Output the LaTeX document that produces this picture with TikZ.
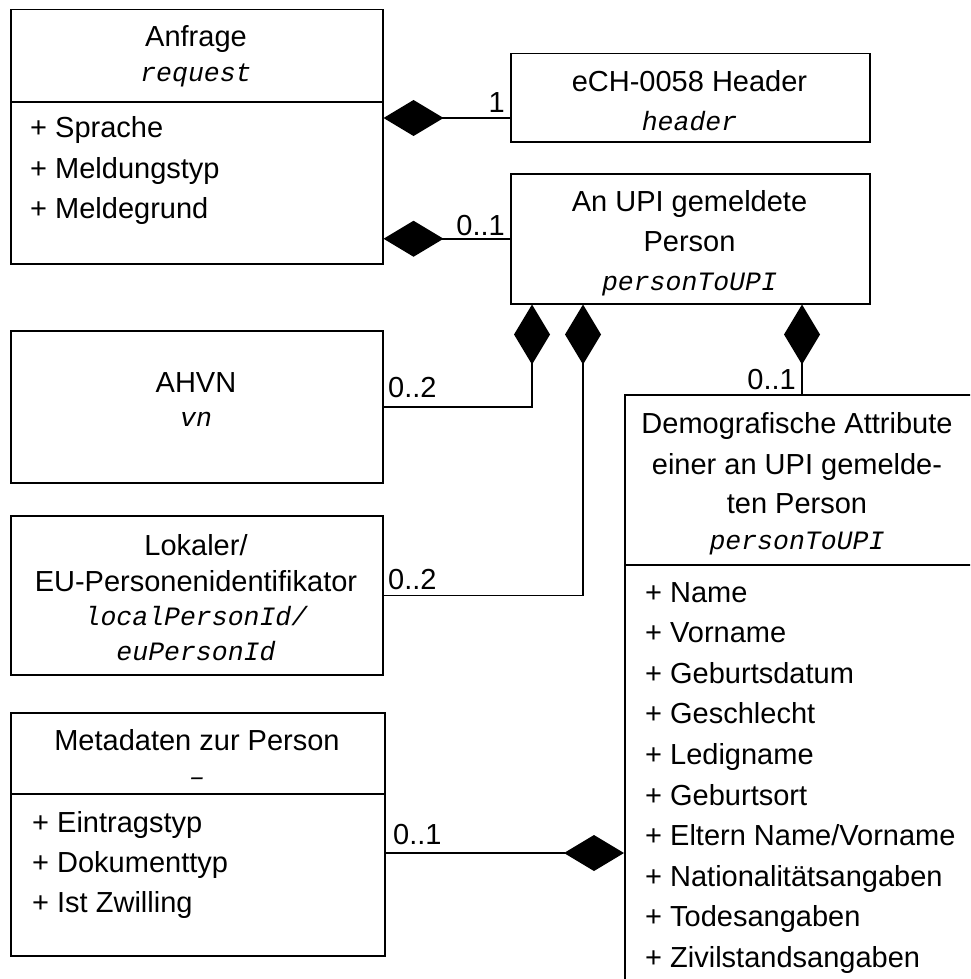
\documentclass[tikz,border=0pt]{standalone}
\usepackage{fontspec}
\setmainfont{Liberation Sans}
\newfontfamily\courfam{Liberation Mono}
\usetikzlibrary{arrows.meta}
\newcommand\txtfont{\fontsize{29pt}{29pt}\selectfont}
\newcommand\rolefont{\courfam\itshape\fontsize{26.5pt}{26.5pt}\selectfont}
\tikzset{
  umlbox/.style={draw=black, fill=white, line width=1.5pt, inner sep=0pt, anchor=north west},
  divider/.style={line width=1.5pt},
  ttl/.style={font=\txtfont, anchor=base, inner sep=0pt},
  role/.style={font=\rolefont, anchor=base, inner sep=0pt},
  attr/.style={font=\txtfont, anchor=base west, inner sep=0pt},
  multl/.style={font=\txtfont, anchor=base west, inner sep=0pt},
  multr/.style={font=\txtfont, anchor=base east, inner sep=0pt},
  comp/.style={line width=1.5pt, {Diamond[length=60pt,width=36pt]}-},
}
\begin{document}
\begin{tikzpicture}[x=1pt, y=-1pt]
\useasboundingbox (0,0) rectangle (970,979);
\clip (0,0) rectangle (970,979);
\fill[white] (0,0) rectangle (970,979);

% ---- class boxes ----
\node[umlbox, minimum width=372pt, minimum height=254pt] (anfrage) at (10,9) {};
\node[umlbox, minimum width=359pt, minimum height=88pt] (hdr) at (510,53) {};
\node[umlbox, minimum width=359pt, minimum height=130pt] (upi) at (510,173) {};
\node[umlbox, minimum width=372pt, minimum height=152pt] (ahvn) at (10,330) {};
\node[umlbox, minimum width=372pt, minimum height=159pt] (lok) at (10,515) {};
\node[umlbox, minimum width=374pt, minimum height=243pt] (meta) at (10,712) {};
\node[umlbox, minimum width=360pt, minimum height=620pt] (demo) at (624,394) {};

% compartment dividers
\draw[divider] (anfrage.west |- 0,102) -- (anfrage.east |- 0,102);
\draw[divider] (meta.west |- 0,794) -- (meta.east |- 0,794);
\draw[divider] (demo.west |- 0,565) -- (demo.east |- 0,565);

% ---- Anfrage ----
\node[ttl]  (anfrageT) at (196,47) {Anfrage};
\node[role] (anfrageR) at (196,82) {request};
\node[attr] (anfrageA1) at (30,138) {+ Sprache};
\node[attr] (anfrageA2) at (30,178) {+ Meldungstyp};
\node[attr] (anfrageA3) at (30,218) {+ Meldegrund};

% ---- Header ----
\node[ttl]  (hdrT) at (689.5,92) {eCH-0058 Header};
\node[role] (hdrR) at (689.5,130) {header};

% ---- An UPI gemeldete Person ----
\node[ttl]  (upiT1) at (689.5,211) {An UPI gemeldete};
\node[ttl]  (upiT2) at (689.5,251) {Person};
\node[role] (upiR) at (689.5,290) {personToUPI};

% ---- AHVN ----
\node[ttl]  (ahvnT) at (196,392) {AHVN};
\node[role] (ahvnR) at (196,426) {vn};

% ---- Lokaler / EU-Personenidentifikator ----
\node[ttl]  (lokT1) at (196,555) {Lokaler/};
\node[ttl]  (lokT2) at (196,591) {EU-Personenidentifikator};
\node[role] (lokR1) at (196,625) {localPersonId/};
\node[role] (lokR2) at (196,660) {euPersonId};

% ---- Metadaten zur Person ----
\node[ttl]  (metaT) at (197,750) {Metadaten zur Person};
\node[role] (metaR) at (197,785) {–};
\node[attr] (metaA1) at (32,832) {+ Eintragstyp};
\node[attr] (metaA2) at (32,872) {+ Dokumenttyp};
\node[attr] (metaA3) at (32,912) {+ Ist Zwilling};

% ---- Demografische Attribute ----
\node[ttl]  (demoT1) at (797,433) {Demografische Attribute};
\node[ttl]  (demoT2) at (797,474) {einer an UPI gemelde-};
\node[ttl]  (demoT3) at (797,513) {ten Person};
\node[role] (demoR) at (797,549) {personToUPI};
\foreach \t [count=\i from 0] in {Name, Vorname, Geburtsdatum, Geschlecht, Ledigname,
    Geburtsort, Eltern Name/Vorname, Nationalitätsangaben, Todesangaben, Zivilstandsangaben}
  \node[attr] (demoA\i) at (645,{602+40.6*\i}) {+ \t};

% ---- compositions ----
\coordinate (y118) at (0,118);
\coordinate (y853) at (0,853);
\coordinate (x532) at (532,0);
\coordinate (x583) at (583,0);
\coordinate (x802) at (802,0);

\draw[comp] (anfrage.east |- y118) -- (hdr.west |- y118);
\draw[comp] (anfrage.east |- upi.west) -- (upi.west);
\draw[comp] (upi.south -| x532) |- (ahvn.east);
\draw[comp] (upi.south -| x583) |- (lok.east);
\draw[comp] (upi.south -| x802) -- (demo.north -| x802);
\draw[comp] (demo.west |- y853) -- (meta.east |- y853);

% multiplicities
\node[multr] (m1) at (505,113) {1};
\node[multr] (m2) at (505,235) {0..1};
\node[multl] (m3) at (388,397) {0..2};
\node[multl] (m4) at (388,589) {0..2};
\node[multr] (m5) at (796,389) {0..1};
\node[multl] (m6) at (393,844) {0..1};
\end{tikzpicture}
\end{document}
